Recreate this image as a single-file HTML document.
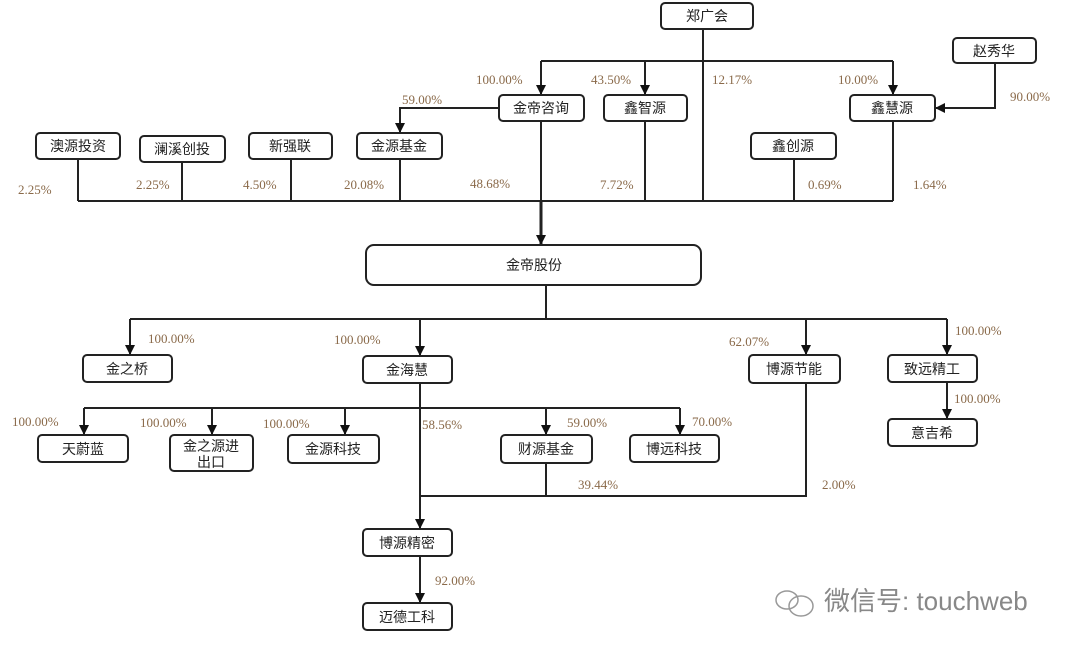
<!DOCTYPE html>
<html><head><meta charset="utf-8"><style>
html,body{margin:0;padding:0;background:#fff;}
svg{display:block}
.b{fill:#fff;stroke:#222;stroke-width:2}
.t{font-family:"Liberation Sans","Noto Sans CJK SC",sans-serif;font-size:14px;fill:#222;text-anchor:middle}
.p{font-family:"Liberation Serif",serif;font-size:13px;fill:#8a6a4a}
.l{stroke:#222;stroke-width:2;fill:none}
</style></head><body>
<svg width="1080" height="649" viewBox="0 0 1080 649">
<defs><marker id="a" markerWidth="10" markerHeight="10" refX="9" refY="5" orient="auto" markerUnits="userSpaceOnUse"><path d="M0,0 L10,5 L0,10 z" fill="#111"/></marker></defs>
<!-- lines -->
<path class="l" d="M703,29 V201"/>
<path class="l" d="M541,61 H893"/>
<path class="l" d="M541,61 V94" marker-end="url(#a)"/>
<path class="l" d="M645,61 V94" marker-end="url(#a)"/>
<path class="l" d="M893,61 V94" marker-end="url(#a)"/>
<path class="l" d="M995,63 V108 H936" marker-end="url(#a)"/>
<path class="l" d="M499,108 H400 V132" marker-end="url(#a)"/>
<path class="l" d="M78,201 H893"/>
<path class="l" d="M78,159 V201 M182,162 V201 M291,159 V201 M400,159 V201 M645,121 V201 M794,159 V201 M893,121 V201"/>
<path class="l" d="M541,121 V201"/>
<path class="l" style="stroke-width:3" d="M541,201 V244" marker-end="url(#a)"/>
<path class="l" d="M546,285 V319 M130,319 H947"/>
<path class="l" d="M130,319 V354" marker-end="url(#a)"/>
<path class="l" d="M420,319 V355" marker-end="url(#a)"/>
<path class="l" d="M806,319 V354" marker-end="url(#a)"/>
<path class="l" d="M947,319 V354" marker-end="url(#a)"/>
<path class="l" d="M947,382 V418" marker-end="url(#a)"/>
<path class="l" d="M420,383 V528" marker-end="url(#a)"/>
<path class="l" d="M84,408 H680"/>
<path class="l" d="M84,408 V434" marker-end="url(#a)"/>
<path class="l" d="M212,408 V434" marker-end="url(#a)"/>
<path class="l" d="M345,408 V434" marker-end="url(#a)"/>
<path class="l" d="M546,408 V434" marker-end="url(#a)"/>
<path class="l" d="M680,408 V434" marker-end="url(#a)"/>
<path class="l" d="M546,463 V496 M420,496 H806 V383"/>
<path class="l" d="M420,556 V602" marker-end="url(#a)"/>
<!-- boxes -->
<g>
<rect class="b" x="661" y="3" width="92" height="26" rx="4"/><text class="t" x="707" y="21">郑广会</text>
<rect class="b" x="953" y="38" width="83" height="25" rx="4"/><text class="t" x="994" y="56">赵秀华</text>
<rect class="b" x="499" y="95" width="85" height="26" rx="4"/><text class="t" x="541" y="113">金帝咨询</text>
<rect class="b" x="604" y="95" width="83" height="26" rx="4"/><text class="t" x="645" y="113">鑫智源</text>
<rect class="b" x="850" y="95" width="85" height="26" rx="4"/><text class="t" x="892" y="113">鑫慧源</text>
<rect class="b" x="36" y="133" width="84" height="26" rx="4"/><text class="t" x="78" y="151">澳源投资</text>
<rect class="b" x="140" y="136" width="85" height="26" rx="4"/><text class="t" x="182" y="154">澜溪创投</text>
<rect class="b" x="249" y="133" width="83" height="26" rx="4"/><text class="t" x="290" y="151">新强联</text>
<rect class="b" x="357" y="133" width="85" height="26" rx="4"/><text class="t" x="399" y="151">金源基金</text>
<rect class="b" x="751" y="133" width="85" height="26" rx="4"/><text class="t" x="793" y="151">鑫创源</text>
<rect class="b" x="366" y="245" width="335" height="40" rx="8"/><text class="t" x="534" y="270">金帝股份</text>
<rect class="b" x="83" y="355" width="89" height="27" rx="4"/><text class="t" x="127" y="374">金之桥</text>
<rect class="b" x="363" y="356" width="89" height="27" rx="4"/><text class="t" x="407" y="375">金海慧</text>
<rect class="b" x="749" y="355" width="91" height="28" rx="4"/><text class="t" x="794" y="374">博源节能</text>
<rect class="b" x="888" y="355" width="89" height="27" rx="4"/><text class="t" x="932" y="374">致远精工</text>
<rect class="b" x="888" y="419" width="89" height="27" rx="4"/><text class="t" x="932" y="438">意吉希</text>
<rect class="b" x="38" y="435" width="90" height="27" rx="4"/><text class="t" x="83" y="454">天蔚蓝</text>
<rect class="b" x="170" y="435" width="83" height="36" rx="4"/><text class="t" x="211" y="451">金之源进</text><text class="t" x="211" y="467">出口</text>
<rect class="b" x="288" y="435" width="91" height="28" rx="4"/><text class="t" x="333" y="454">金源科技</text>
<rect class="b" x="501" y="435" width="91" height="28" rx="4"/><text class="t" x="546" y="454">财源基金</text>
<rect class="b" x="630" y="435" width="89" height="27" rx="4"/><text class="t" x="674" y="454">博远科技</text>
<rect class="b" x="363" y="529" width="89" height="27" rx="4"/><text class="t" x="407" y="548">博源精密</text>
<rect class="b" x="363" y="603" width="89" height="27" rx="4"/><text class="t" x="407" y="622">迈德工科</text>
</g>
<!-- labels -->
<g class="p">
<text x="476" y="84">100.00%</text><text x="591" y="84">43.50%</text><text x="712" y="84">12.17%</text><text x="838" y="84">10.00%</text>
<text x="1010" y="101">90.00%</text><text x="402" y="104">59.00%</text>
<text x="18" y="194">2.25%</text><text x="136" y="189">2.25%</text><text x="243" y="189">4.50%</text><text x="344" y="189">20.08%</text>
<text x="470" y="188">48.68%</text><text x="600" y="189">7.72%</text><text x="808" y="189">0.69%</text><text x="913" y="189">1.64%</text>
<text x="148" y="343">100.00%</text><text x="334" y="344">100.00%</text><text x="729" y="346">62.07%</text><text x="955" y="335">100.00%</text>
<text x="954" y="403">100.00%</text>
<text x="12" y="426">100.00%</text><text x="140" y="427">100.00%</text><text x="263" y="428">100.00%</text><text x="422" y="429">58.56%</text>
<text x="567" y="427">59.00%</text><text x="692" y="426">70.00%</text><text x="578" y="489">39.44%</text><text x="822" y="489">2.00%</text>
<text x="435" y="585">92.00%</text>
</g>
<!-- watermark -->
<g fill="none" stroke="#999" stroke-width="1.5">
<ellipse cx="787" cy="600" rx="11" ry="9"/><ellipse cx="801" cy="606" rx="12" ry="10"/>
</g>
<text x="824" y="610" style="font-family:'Liberation Sans','Noto Sans CJK SC',sans-serif;font-size:26px;fill:#888">微信号: touchweb</text>
</svg>
</body></html>
